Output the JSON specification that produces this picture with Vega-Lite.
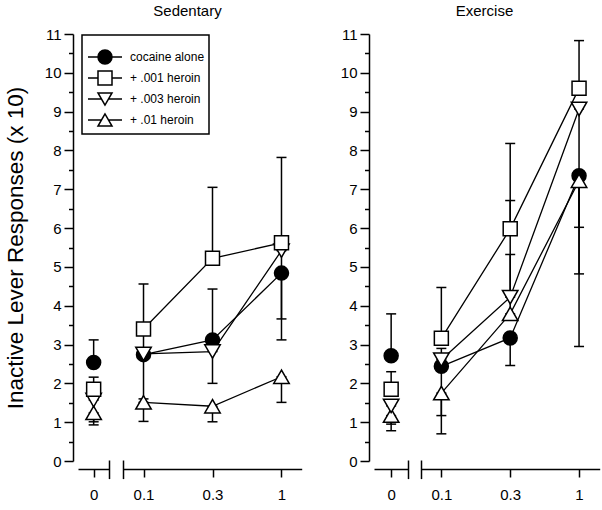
{
  "$schema": "https://vega.github.io/schema/vega-lite/v6.json",
  "padding": {"left": 4, "top": 4, "right": 2, "bottom": 2},
  "spacing": 38,
  "config": {
    "view": {"stroke": null},
    "font": "Liberation Sans",
    "axis": {"labelFont": "Liberation Sans", "labelFontSize": 15, "labelColor": "black", "titleFont": "Liberation Sans", "titleFontSize": 22.5, "titleFontWeight": "normal", "titleColor": "black", "domainColor": "black", "tickColor": "black", "domainWidth": 1.5, "tickWidth": 1.5, "grid": false},
    "title": {"font": "Liberation Sans", "fontSize": 15, "fontWeight": "normal", "color": "black", "offset": 8}
  },
  "datasets": {
    "d": [
      {"g": "Sedentary", "s": "cocaine alone", "d": "0", "m": 2.54, "lo": 2.54, "hi": 3.12},
      {"g": "Sedentary", "s": "+ .01 heroin", "d": "0", "m": 1.24, "lo": 0.93, "hi": 1.24},
      {"g": "Sedentary", "s": "+ .003 heroin", "d": "0", "m": 1.57, "lo": 1.01, "hi": 1.57},
      {"g": "Sedentary", "s": "+ .001 heroin", "d": "0", "m": 1.85, "lo": 1.85, "hi": 2.16},
      {"g": "Sedentary", "s": "cocaine alone", "d": "0.1", "m": 2.74, "lo": 2.74, "hi": 3.3},
      {"g": "Sedentary", "s": "+ .01 heroin", "d": "0.1", "m": 1.51, "lo": 1.02, "hi": 1.51},
      {"g": "Sedentary", "s": "+ .003 heroin", "d": "0.1", "m": 2.76, "lo": 1.6, "hi": 2.76},
      {"g": "Sedentary", "s": "+ .001 heroin", "d": "0.1", "m": 3.4, "lo": 3.4, "hi": 4.56},
      {"g": "Sedentary", "s": "cocaine alone", "d": "0.3", "m": 3.12, "lo": 3.12, "hi": 4.43},
      {"g": "Sedentary", "s": "+ .01 heroin", "d": "0.3", "m": 1.41, "lo": 1.01, "hi": 1.41},
      {"g": "Sedentary", "s": "+ .003 heroin", "d": "0.3", "m": 2.82, "lo": 2.0, "hi": 2.82},
      {"g": "Sedentary", "s": "+ .001 heroin", "d": "0.3", "m": 5.22, "lo": 5.22, "hi": 7.05},
      {"g": "Sedentary", "s": "cocaine alone", "d": "1", "m": 4.84, "lo": 3.66, "hi": 4.84},
      {"g": "Sedentary", "s": "+ .01 heroin", "d": "1", "m": 2.17, "lo": 1.51, "hi": 2.17},
      {"g": "Sedentary", "s": "+ .003 heroin", "d": "1", "m": 5.42, "lo": 3.12, "hi": 5.42},
      {"g": "Sedentary", "s": "+ .001 heroin", "d": "1", "m": 5.62, "lo": 5.62, "hi": 7.82},
      {"g": "Exercise", "s": "cocaine alone", "d": "0", "m": 2.71, "lo": 2.71, "hi": 3.79},
      {"g": "Exercise", "s": "+ .01 heroin", "d": "0", "m": 1.17, "lo": 0.78, "hi": 1.17},
      {"g": "Exercise", "s": "+ .003 heroin", "d": "0", "m": 1.42, "lo": 0.95, "hi": 1.42},
      {"g": "Exercise", "s": "+ .001 heroin", "d": "0", "m": 1.85, "lo": 1.85, "hi": 2.3},
      {"g": "Exercise", "s": "cocaine alone", "d": "0.1", "m": 2.44, "lo": 2.44, "hi": 2.9},
      {"g": "Exercise", "s": "+ .01 heroin", "d": "0.1", "m": 1.75, "lo": 0.7, "hi": 1.75},
      {"g": "Exercise", "s": "+ .003 heroin", "d": "0.1", "m": 2.61, "lo": 1.17, "hi": 2.61},
      {"g": "Exercise", "s": "+ .001 heroin", "d": "0.1", "m": 3.16, "lo": 3.16, "hi": 4.47},
      {"g": "Exercise", "s": "cocaine alone", "d": "0.3", "m": 3.17, "lo": 2.46, "hi": 3.17},
      {"g": "Exercise", "s": "+ .01 heroin", "d": "0.3", "m": 3.79, "lo": 3.79, "hi": 5.32},
      {"g": "Exercise", "s": "+ .003 heroin", "d": "0.3", "m": 4.22, "lo": 4.22, "hi": 6.71},
      {"g": "Exercise", "s": "+ .001 heroin", "d": "0.3", "m": 5.98, "lo": 5.98, "hi": 8.18},
      {"g": "Exercise", "s": "cocaine alone", "d": "1", "m": 7.35, "lo": 6.02, "hi": 7.35},
      {"g": "Exercise", "s": "+ .01 heroin", "d": "1", "m": 7.22, "lo": 2.95, "hi": 7.22},
      {"g": "Exercise", "s": "+ .003 heroin", "d": "1", "m": 9.07, "lo": 4.82, "hi": 9.07},
      {"g": "Exercise", "s": "+ .001 heroin", "d": "1", "m": 9.6, "lo": 9.6, "hi": 10.83}
    ]
  },
  "resolve": {"scale": {"fill": "independent"}, "legend": {"fill": "independent"}},
  "hconcat": [
    {
      "width": 229, "height": 427,
      "title": "Sedentary",
      "data": {"name": "d"},
      "transform": [{"filter": "datum.g === 'Sedentary'"}],
      "layer": [
        {
          "transform": [{"filter": "datum.d === '0'"}],
          "encoding": {
            "x": {"field": "d", "type": "ordinal", "scale": {"type": "point", "domain": ["0"], "range": [5, 36.3], "padding": 0.5}, "axis": {"orient": "bottom", "title": null, "labelAngle": 0, "tickSize": 8, "offset": 8, "labelPadding": 10}}
          },
          "layer": [
            {"mark": {"type": "rule", "stroke": "black", "strokeWidth": 1.5}, "encoding": {"y": {"field": "lo", "type": "quantitative", "scale": {"domain": [0, 11]}, "title": "Inactive Lever Responses (x 10)", "axis": {"orient": "left", "values": [0,0.5,1,1.5,2,2.5,3,3.5,4,4.5,5,5.5,6,6.5,7,7.5,8,8.5,9,9.5,10,10.5,11], "labelExpr": "datum.value % 1 === 0 ? format(datum.value, 'd') : ''", "tickSize": {"condition": {"test": "datum.value % 1 === 0", "value": 9}, "value": 4.5}, "labelOverlap": false, "labelFlush": false, "labelPadding": 3, "titlePadding": 17}}, "y2": {"field": "hi"}}},
            {"mark": {"type": "tick", "orient": "horizontal", "size": 10, "thickness": 1.5, "color": "black", "opacity": 1}, "encoding": {"y": {"field": "lo", "type": "quantitative", "scale": {"domain": [0, 11]}, "title": "Inactive Lever Responses (x 10)", "axis": {"orient": "left", "values": [0,0.5,1,1.5,2,2.5,3,3.5,4,4.5,5,5.5,6,6.5,7,7.5,8,8.5,9,9.5,10,10.5,11], "labelExpr": "datum.value % 1 === 0 ? format(datum.value, 'd') : ''", "tickSize": {"condition": {"test": "datum.value % 1 === 0", "value": 9}, "value": 4.5}, "labelOverlap": false, "labelFlush": false, "labelPadding": 3, "titlePadding": 17}}}},
            {"mark": {"type": "tick", "orient": "horizontal", "size": 10, "thickness": 1.5, "color": "black", "opacity": 1}, "encoding": {"y": {"field": "hi", "type": "quantitative", "scale": {"domain": [0, 11]}, "title": "Inactive Lever Responses (x 10)", "axis": {"orient": "left", "values": [0,0.5,1,1.5,2,2.5,3,3.5,4,4.5,5,5.5,6,6.5,7,7.5,8,8.5,9,9.5,10,10.5,11], "labelExpr": "datum.value % 1 === 0 ? format(datum.value, 'd') : ''", "tickSize": {"condition": {"test": "datum.value % 1 === 0", "value": 9}, "value": 4.5}, "labelOverlap": false, "labelFlush": false, "labelPadding": 3, "titlePadding": 17}}}},
            {"mark": {"type": "point", "filled": true, "stroke": "black", "strokeWidth": 1.5, "opacity": 1}, "encoding": {
              "y": {"field": "m", "type": "quantitative", "scale": {"domain": [0, 11]}, "title": "Inactive Lever Responses (x 10)", "axis": {"orient": "left", "values": [0,0.5,1,1.5,2,2.5,3,3.5,4,4.5,5,5.5,6,6.5,7,7.5,8,8.5,9,9.5,10,10.5,11], "labelExpr": "datum.value % 1 === 0 ? format(datum.value, 'd') : ''", "tickSize": {"condition": {"test": "datum.value % 1 === 0", "value": 9}, "value": 4.5}, "labelOverlap": false, "labelFlush": false, "labelPadding": 3, "titlePadding": 17}},
              "shape": {"condition": [{"test": "datum.s === 'cocaine alone'", "value": "circle"}, {"test": "datum.s === '+ .001 heroin'", "value": "square"}, {"test": "datum.s === '+ .003 heroin'", "value": "triangle-down"}], "value": "triangle-up"},
              "fill": {"field": "s", "type": "nominal", "scale": {"domain": ["cocaine alone", "+ .001 heroin", "+ .003 heroin", "+ .01 heroin"], "range": ["black", "white", "white", "white"]}, "legend": {
                "title": " ", "titleFontSize": 10, "titlePadding": 0, "orient": "none", "legendX": 9, "legendY": 1, "padding": 4, "rowPadding": 1, "strokeColor": "black", "fillColor": "white",
                "symbolSize": 196, "symbolOffset": 11, "labelOffset": 17, "labelFont": "Liberation Sans", "labelFontSize": 12, "labelColor": "black",
                "symbolStrokeColor": "black", "symbolStrokeWidth": 1.5, "symbolOpacity": 1,
                "encoding": {
                  "symbols": {
                    "shape": {"condition": [{"test": "datum.value === 'cocaine alone'", "value": "M-2.43,0H-1M1,0H2.43M1,0A1,1,0,1,1,-1,0A1,1,0,1,1,1,0Z"}, {"test": "datum.value === '+ .001 heroin'", "value": "M-2.43,0H-1M1,0H2.43M-1,-1H1V1H-1Z"}, {"test": "datum.value === '+ .003 heroin'", "value": "M-2.43,0H-0.5M0.5,0H2.43M0,0.866L-1,-0.866L1,-0.866Z"}], "value": "M-2.43,0H-0.5M0.5,0H2.43M0,-0.866L-1,0.866L1,0.866Z"},
                    "stroke": {"value": "black"},
                    "strokeWidth": {"value": 1.5},
                    "opacity": {"value": 1},
                    "size": {"value": 196}
                  },
                  "legend": {"strokeWidth": {"value": 1.5}}
                }
              }},
              "size": {"condition": {"test": "datum.s === '+ .01 heroin' || datum.s === '+ .003 heroin'", "value": 240}, "value": 196}
            }}
          ]
        },
        {
          "data": {"values": []},
          "mark": {"type": "rule"},
          "encoding": {"x": {"field": "b", "type": "quantitative", "scale": {"domain": [0, 1], "range": [36.3, 50.3]}, "axis": {"orient": "bottom", "values": [0, 1], "domain": false, "labels": false, "tickSize": 18.6, "offset": -1, "title": null}}}
        },
        {
          "transform": [{"filter": "datum.d !== '0'"}],
          "encoding": {"x": {"field": "d", "type": "ordinal", "scale": {"type": "point", "domain": ["0.1", "0.3", "1"], "range": [50.3, 228.7], "padding": 0.293}, "axis": {"orient": "bottom", "title": null, "labelAngle": 0, "tickSize": 8, "offset": 8, "labelPadding": 10}}},
          "layer": [
            {"mark": {"type": "line", "stroke": "black", "strokeWidth": 1.3}, "encoding": {"y": {"field": "m", "type": "quantitative", "scale": {"domain": [0, 11]}, "title": "Inactive Lever Responses (x 10)", "axis": {"orient": "left", "values": [0,0.5,1,1.5,2,2.5,3,3.5,4,4.5,5,5.5,6,6.5,7,7.5,8,8.5,9,9.5,10,10.5,11], "labelExpr": "datum.value % 1 === 0 ? format(datum.value, 'd') : ''", "tickSize": {"condition": {"test": "datum.value % 1 === 0", "value": 9}, "value": 4.5}, "labelOverlap": false, "labelFlush": false, "labelPadding": 3, "titlePadding": 17}}, "detail": {"field": "s"}}},
            {"mark": {"type": "rule", "stroke": "black", "strokeWidth": 1.5}, "encoding": {"y": {"field": "lo", "type": "quantitative", "scale": {"domain": [0, 11]}, "title": "Inactive Lever Responses (x 10)", "axis": {"orient": "left", "values": [0,0.5,1,1.5,2,2.5,3,3.5,4,4.5,5,5.5,6,6.5,7,7.5,8,8.5,9,9.5,10,10.5,11], "labelExpr": "datum.value % 1 === 0 ? format(datum.value, 'd') : ''", "tickSize": {"condition": {"test": "datum.value % 1 === 0", "value": 9}, "value": 4.5}, "labelOverlap": false, "labelFlush": false, "labelPadding": 3, "titlePadding": 17}}, "y2": {"field": "hi"}}},
            {"mark": {"type": "tick", "orient": "horizontal", "size": 10, "thickness": 1.5, "color": "black", "opacity": 1}, "encoding": {"y": {"field": "lo", "type": "quantitative", "scale": {"domain": [0, 11]}, "title": "Inactive Lever Responses (x 10)", "axis": {"orient": "left", "values": [0,0.5,1,1.5,2,2.5,3,3.5,4,4.5,5,5.5,6,6.5,7,7.5,8,8.5,9,9.5,10,10.5,11], "labelExpr": "datum.value % 1 === 0 ? format(datum.value, 'd') : ''", "tickSize": {"condition": {"test": "datum.value % 1 === 0", "value": 9}, "value": 4.5}, "labelOverlap": false, "labelFlush": false, "labelPadding": 3, "titlePadding": 17}}}},
            {"mark": {"type": "tick", "orient": "horizontal", "size": 10, "thickness": 1.5, "color": "black", "opacity": 1}, "encoding": {"y": {"field": "hi", "type": "quantitative", "scale": {"domain": [0, 11]}, "title": "Inactive Lever Responses (x 10)", "axis": {"orient": "left", "values": [0,0.5,1,1.5,2,2.5,3,3.5,4,4.5,5,5.5,6,6.5,7,7.5,8,8.5,9,9.5,10,10.5,11], "labelExpr": "datum.value % 1 === 0 ? format(datum.value, 'd') : ''", "tickSize": {"condition": {"test": "datum.value % 1 === 0", "value": 9}, "value": 4.5}, "labelOverlap": false, "labelFlush": false, "labelPadding": 3, "titlePadding": 17}}}},
            {"mark": {"type": "point", "filled": true, "stroke": "black", "strokeWidth": 1.5, "opacity": 1}, "encoding": {
              "y": {"field": "m", "type": "quantitative", "scale": {"domain": [0, 11]}, "title": "Inactive Lever Responses (x 10)", "axis": {"orient": "left", "values": [0,0.5,1,1.5,2,2.5,3,3.5,4,4.5,5,5.5,6,6.5,7,7.5,8,8.5,9,9.5,10,10.5,11], "labelExpr": "datum.value % 1 === 0 ? format(datum.value, 'd') : ''", "tickSize": {"condition": {"test": "datum.value % 1 === 0", "value": 9}, "value": 4.5}, "labelOverlap": false, "labelFlush": false, "labelPadding": 3, "titlePadding": 17}},
              "shape": {"condition": [{"test": "datum.s === 'cocaine alone'", "value": "circle"}, {"test": "datum.s === '+ .001 heroin'", "value": "square"}, {"test": "datum.s === '+ .003 heroin'", "value": "triangle-down"}], "value": "triangle-up"},
              "fill": {"field": "s", "type": "nominal", "scale": {"domain": ["cocaine alone", "+ .001 heroin", "+ .003 heroin", "+ .01 heroin"], "range": ["black", "white", "white", "white"]}, "legend": {
                "title": " ", "titleFontSize": 10, "titlePadding": 0, "orient": "none", "legendX": 9, "legendY": 1, "padding": 4, "rowPadding": 1, "strokeColor": "black", "fillColor": "white",
                "symbolSize": 196, "symbolOffset": 11, "labelOffset": 17, "labelFont": "Liberation Sans", "labelFontSize": 12, "labelColor": "black",
                "symbolStrokeColor": "black", "symbolStrokeWidth": 1.5, "symbolOpacity": 1,
                "encoding": {
                  "symbols": {
                    "shape": {"condition": [{"test": "datum.value === 'cocaine alone'", "value": "M-2.43,0H-1M1,0H2.43M1,0A1,1,0,1,1,-1,0A1,1,0,1,1,1,0Z"}, {"test": "datum.value === '+ .001 heroin'", "value": "M-2.43,0H-1M1,0H2.43M-1,-1H1V1H-1Z"}, {"test": "datum.value === '+ .003 heroin'", "value": "M-2.43,0H-0.5M0.5,0H2.43M0,0.866L-1,-0.866L1,-0.866Z"}], "value": "M-2.43,0H-0.5M0.5,0H2.43M0,-0.866L-1,0.866L1,0.866Z"},
                    "stroke": {"value": "black"},
                    "strokeWidth": {"value": 1.5},
                    "opacity": {"value": 1},
                    "size": {"value": 196}
                  },
                  "legend": {"strokeWidth": {"value": 1.5}}
                }
              }},
              "size": {"condition": {"test": "datum.s === '+ .01 heroin' || datum.s === '+ .003 heroin'", "value": 240}, "value": 196}
            }}
          ]
        }
      ],
      "resolve": {"scale": {"x": "independent"}}
    },
    {
      "width": 231, "height": 427,
      "title": "Exercise",
      "data": {"name": "d"},
      "transform": [{"filter": "datum.g === 'Exercise'"}],
      "layer": [
        {
          "transform": [{"filter": "datum.d === '0'"}],
          "encoding": {"x": {"field": "d", "type": "ordinal", "scale": {"type": "point", "domain": ["0"], "range": [5, 39.3], "padding": 0.5}, "axis": {"orient": "bottom", "title": null, "labelAngle": 0, "tickSize": 8, "offset": 8, "labelPadding": 10}}},
          "layer": [
            {"mark": {"type": "rule", "stroke": "black", "strokeWidth": 1.5}, "encoding": {"y": {"field": "lo", "type": "quantitative", "scale": {"domain": [0, 11]}, "title": null, "axis": {"orient": "left", "values": [0,0.5,1,1.5,2,2.5,3,3.5,4,4.5,5,5.5,6,6.5,7,7.5,8,8.5,9,9.5,10,10.5,11], "labelExpr": "datum.value % 1 === 0 ? format(datum.value, 'd') : ''", "tickSize": {"condition": {"test": "datum.value % 1 === 0", "value": 9}, "value": 4.5}, "labelOverlap": false, "labelFlush": false, "labelPadding": 3}}, "y2": {"field": "hi"}}},
            {"mark": {"type": "tick", "orient": "horizontal", "size": 10, "thickness": 1.5, "color": "black", "opacity": 1}, "encoding": {"y": {"field": "lo", "type": "quantitative", "scale": {"domain": [0, 11]}, "title": null, "axis": {"orient": "left", "values": [0,0.5,1,1.5,2,2.5,3,3.5,4,4.5,5,5.5,6,6.5,7,7.5,8,8.5,9,9.5,10,10.5,11], "labelExpr": "datum.value % 1 === 0 ? format(datum.value, 'd') : ''", "tickSize": {"condition": {"test": "datum.value % 1 === 0", "value": 9}, "value": 4.5}, "labelOverlap": false, "labelFlush": false, "labelPadding": 3}}}},
            {"mark": {"type": "tick", "orient": "horizontal", "size": 10, "thickness": 1.5, "color": "black", "opacity": 1}, "encoding": {"y": {"field": "hi", "type": "quantitative", "scale": {"domain": [0, 11]}, "title": null, "axis": {"orient": "left", "values": [0,0.5,1,1.5,2,2.5,3,3.5,4,4.5,5,5.5,6,6.5,7,7.5,8,8.5,9,9.5,10,10.5,11], "labelExpr": "datum.value % 1 === 0 ? format(datum.value, 'd') : ''", "tickSize": {"condition": {"test": "datum.value % 1 === 0", "value": 9}, "value": 4.5}, "labelOverlap": false, "labelFlush": false, "labelPadding": 3}}}},
            {"mark": {"type": "point", "filled": true, "stroke": "black", "strokeWidth": 1.5, "opacity": 1}, "encoding": {
              "y": {"field": "m", "type": "quantitative", "scale": {"domain": [0, 11]}, "title": null, "axis": {"orient": "left", "values": [0,0.5,1,1.5,2,2.5,3,3.5,4,4.5,5,5.5,6,6.5,7,7.5,8,8.5,9,9.5,10,10.5,11], "labelExpr": "datum.value % 1 === 0 ? format(datum.value, 'd') : ''", "tickSize": {"condition": {"test": "datum.value % 1 === 0", "value": 9}, "value": 4.5}, "labelOverlap": false, "labelFlush": false, "labelPadding": 3}},
              "shape": {"condition": [{"test": "datum.s === 'cocaine alone'", "value": "circle"}, {"test": "datum.s === '+ .001 heroin'", "value": "square"}, {"test": "datum.s === '+ .003 heroin'", "value": "triangle-down"}], "value": "triangle-up"},
              "fill": {"field": "s", "type": "nominal", "scale": {"domain": ["cocaine alone", "+ .001 heroin", "+ .003 heroin", "+ .01 heroin"], "range": ["black", "white", "white", "white"]}, "legend": null},
              "size": {"condition": {"test": "datum.s === '+ .01 heroin' || datum.s === '+ .003 heroin'", "value": 240}, "value": 196}
            }}
          ]
        },
        {
          "data": {"values": []},
          "mark": {"type": "rule"},
          "encoding": {"x": {"field": "b", "type": "quantitative", "scale": {"domain": [0, 1], "range": [39.3, 51.7]}, "axis": {"orient": "bottom", "values": [0, 1], "domain": false, "labels": false, "tickSize": 18.6, "offset": -1, "title": null}}}
        },
        {
          "transform": [{"filter": "datum.d !== '0'"}],
          "encoding": {"x": {"field": "d", "type": "ordinal", "scale": {"type": "point", "domain": ["0.1", "0.3", "1"], "range": [51.7, 230.7], "padding": 0.3}, "axis": {"orient": "bottom", "title": null, "labelAngle": 0, "tickSize": 8, "offset": 8, "labelPadding": 10}}},
          "layer": [
            {"mark": {"type": "line", "stroke": "black", "strokeWidth": 1.3}, "encoding": {"y": {"field": "m", "type": "quantitative", "scale": {"domain": [0, 11]}, "title": null, "axis": {"orient": "left", "values": [0,0.5,1,1.5,2,2.5,3,3.5,4,4.5,5,5.5,6,6.5,7,7.5,8,8.5,9,9.5,10,10.5,11], "labelExpr": "datum.value % 1 === 0 ? format(datum.value, 'd') : ''", "tickSize": {"condition": {"test": "datum.value % 1 === 0", "value": 9}, "value": 4.5}, "labelOverlap": false, "labelFlush": false, "labelPadding": 3}}, "detail": {"field": "s"}}},
            {"mark": {"type": "rule", "stroke": "black", "strokeWidth": 1.5}, "encoding": {"y": {"field": "lo", "type": "quantitative", "scale": {"domain": [0, 11]}, "title": null, "axis": {"orient": "left", "values": [0,0.5,1,1.5,2,2.5,3,3.5,4,4.5,5,5.5,6,6.5,7,7.5,8,8.5,9,9.5,10,10.5,11], "labelExpr": "datum.value % 1 === 0 ? format(datum.value, 'd') : ''", "tickSize": {"condition": {"test": "datum.value % 1 === 0", "value": 9}, "value": 4.5}, "labelOverlap": false, "labelFlush": false, "labelPadding": 3}}, "y2": {"field": "hi"}}},
            {"mark": {"type": "tick", "orient": "horizontal", "size": 10, "thickness": 1.5, "color": "black", "opacity": 1}, "encoding": {"y": {"field": "lo", "type": "quantitative", "scale": {"domain": [0, 11]}, "title": null, "axis": {"orient": "left", "values": [0,0.5,1,1.5,2,2.5,3,3.5,4,4.5,5,5.5,6,6.5,7,7.5,8,8.5,9,9.5,10,10.5,11], "labelExpr": "datum.value % 1 === 0 ? format(datum.value, 'd') : ''", "tickSize": {"condition": {"test": "datum.value % 1 === 0", "value": 9}, "value": 4.5}, "labelOverlap": false, "labelFlush": false, "labelPadding": 3}}}},
            {"mark": {"type": "tick", "orient": "horizontal", "size": 10, "thickness": 1.5, "color": "black", "opacity": 1}, "encoding": {"y": {"field": "hi", "type": "quantitative", "scale": {"domain": [0, 11]}, "title": null, "axis": {"orient": "left", "values": [0,0.5,1,1.5,2,2.5,3,3.5,4,4.5,5,5.5,6,6.5,7,7.5,8,8.5,9,9.5,10,10.5,11], "labelExpr": "datum.value % 1 === 0 ? format(datum.value, 'd') : ''", "tickSize": {"condition": {"test": "datum.value % 1 === 0", "value": 9}, "value": 4.5}, "labelOverlap": false, "labelFlush": false, "labelPadding": 3}}}},
            {"mark": {"type": "point", "filled": true, "stroke": "black", "strokeWidth": 1.5, "opacity": 1}, "encoding": {
              "y": {"field": "m", "type": "quantitative", "scale": {"domain": [0, 11]}, "title": null, "axis": {"orient": "left", "values": [0,0.5,1,1.5,2,2.5,3,3.5,4,4.5,5,5.5,6,6.5,7,7.5,8,8.5,9,9.5,10,10.5,11], "labelExpr": "datum.value % 1 === 0 ? format(datum.value, 'd') : ''", "tickSize": {"condition": {"test": "datum.value % 1 === 0", "value": 9}, "value": 4.5}, "labelOverlap": false, "labelFlush": false, "labelPadding": 3}},
              "shape": {"condition": [{"test": "datum.s === 'cocaine alone'", "value": "circle"}, {"test": "datum.s === '+ .001 heroin'", "value": "square"}, {"test": "datum.s === '+ .003 heroin'", "value": "triangle-down"}], "value": "triangle-up"},
              "fill": {"field": "s", "type": "nominal", "scale": {"domain": ["cocaine alone", "+ .001 heroin", "+ .003 heroin", "+ .01 heroin"], "range": ["black", "white", "white", "white"]}, "legend": null},
              "size": {"condition": {"test": "datum.s === '+ .01 heroin' || datum.s === '+ .003 heroin'", "value": 240}, "value": 196}
            }}
          ]
        }
      ],
      "resolve": {"scale": {"x": "independent"}}
    }
  ]
}
